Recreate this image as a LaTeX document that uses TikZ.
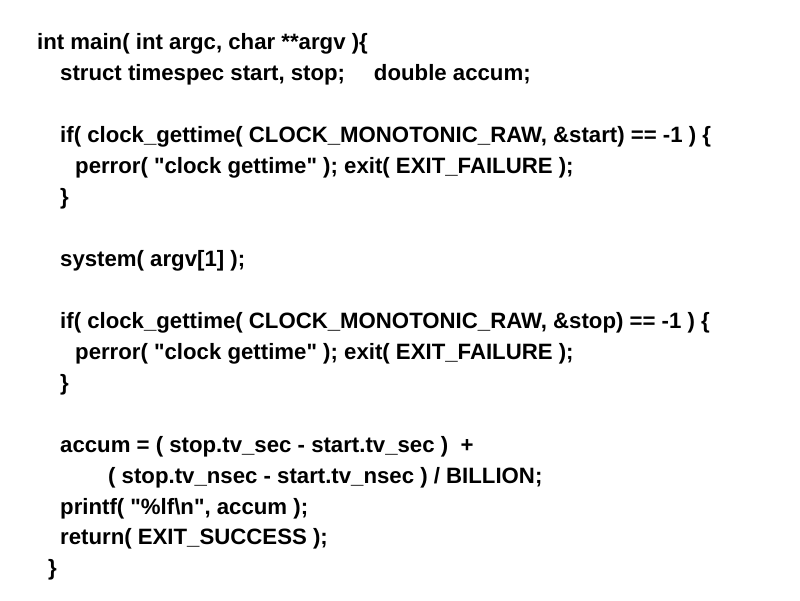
\documentclass[tikz,border=0pt]{standalone}
\usepackage{fontspec}
\setmainfont{Liberation Sans}
\usetikzlibrary{positioning}

\begin{document}
\begin{tikzpicture}[
  x=1pt,y=-1pt,
  code/.style={
    anchor=base west,inner sep=0pt,
    font=\fontsize{22.2}{26}\selectfont\bfseries
  }
]

\useasboundingbox[fill=white] (0,0) rectangle (800,600);

\node[code] (head) at (37,49) {int main( int argc, char **argv )\{};
\node[code] (decl) at (60,80) {struct timespec start, stop;\hspace{1.3em}double accum;};

\node[code] (if1) at (60,142) {if( clock\_gettime( CLOCK\_MONOTONIC\_RAW, \&start) == -1 ) \{};
\node[code] (err1) at (75,173) {perror( \textquotedbl clock gettime\textquotedbl\ ); exit( EXIT\_FAILURE );};
\node[code] (end1) at (60,204) {\}};

\node[code] (sys) at (60,266) {system( argv[1] );};

\node[code] (if2) at (60,328) {if( clock\_gettime( CLOCK\_MONOTONIC\_RAW, \&stop) == -1 ) \{};
\node[code] (err2) at (75,359) {perror( \textquotedbl clock gettime\textquotedbl\ ); exit( EXIT\_FAILURE );};
\node[code] (end2) at (60,390) {\}};

\node[code] (acc1) at (60,452) {accum = ( stop.tv\_sec - start.tv\_sec )\ \ +};
\node[code] (acc2) at (108,483) {( stop.tv\_nsec - start.tv\_nsec ) / BILLION;};
\node[code] (prt) at (60,514) {printf( \textquotedbl\%lf\textbackslash n\textquotedbl, accum );};
\node[code] (ret) at (60,544) {return( EXIT\_SUCCESS );};
\node[code] (endm) at (48,575) {\}};

\end{tikzpicture}
\end{document}
